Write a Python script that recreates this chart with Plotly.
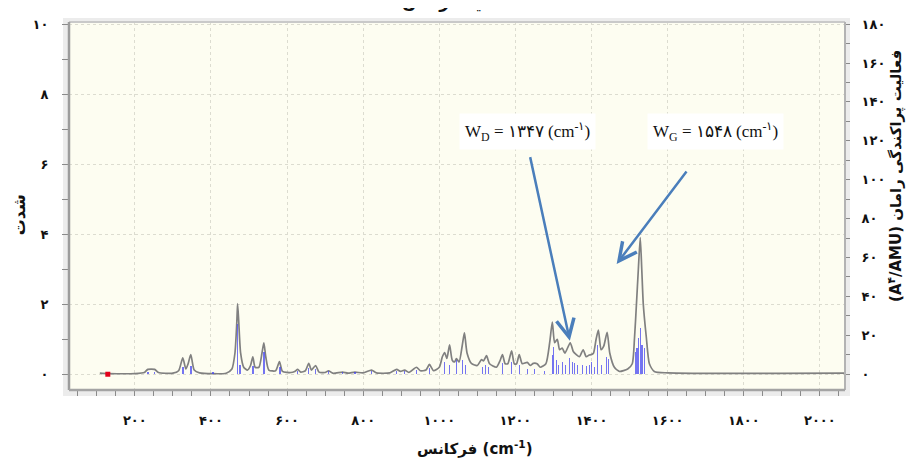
import plotly.graph_objects as go

# ---------------- data ----------------
wavenumber = [108, 130, 200, 225, 234, 252, 262, 300, 315, 326, 334, 340, 347, 356, 370,
              440, 455, 463, 468, 470, 473, 478, 486, 496, 504, 510, 516, 526, 534, 539,
              544, 552, 570, 580, 588, 610, 620, 628, 636, 648, 657, 664, 675, 684, 700,
              709, 720, 746, 760, 778, 800, 822, 835, 870, 888, 898, 909, 920, 940, 950,
              965, 974, 985, 1000, 1008, 1014, 1020, 1027, 1034, 1040, 1045, 1052, 1060,
              1066, 1073, 1085, 1100, 1111, 1116, 1124, 1132, 1150, 1160, 1166, 1173, 1180,
              1190, 1197, 1203, 1210, 1218, 1231, 1239, 1247, 1257, 1265, 1280, 1290, 1297,
              1303, 1310, 1316, 1323, 1330, 1344, 1352, 1360, 1368, 1378, 1386, 1394, 1399,
              1405, 1412, 1418, 1425, 1432, 1441, 1448, 1460, 1473, 1495, 1507, 1513, 1518,
              1523, 1528, 1532, 1536, 1544, 1552, 1565, 1600, 2066]
intensity = [0.03, 0.02, 0.02, 0.05, 0.14, 0.14, 0.05, 0.03, 0.10, 0.47, 0.15, 0.30, 0.56, 0.12, 0.04,
             0.03, 0.15, 0.60, 1.50, 2.02, 1.50, 0.60, 0.20, 0.12, 0.25, 0.50, 0.20, 0.20, 0.60, 0.90,
             0.50, 0.12, 0.10, 0.36, 0.08, 0.05, 0.08, 0.14, 0.06, 0.10, 0.31, 0.12, 0.25, 0.06, 0.05,
             0.10, 0.03, 0.06, 0.03, 0.06, 0.04, 0.12, 0.04, 0.04, 0.14, 0.08, 0.12, 0.05, 0.20, 0.10,
             0.12, 0.28, 0.10, 0.20, 0.50, 0.62, 0.45, 0.84, 0.40, 0.35, 0.45, 0.35, 0.80,
             1.18, 0.60, 0.30, 0.25, 0.42, 0.38, 0.53, 0.30, 0.20, 0.40, 0.56, 0.30, 0.30,
             0.67, 0.30, 0.30, 0.56, 0.30, 0.34, 0.25, 0.31, 0.30, 0.20, 0.30, 0.90, 1.49,
             0.90, 1.00, 0.70, 0.75, 0.60, 0.90, 0.65, 0.56, 0.50, 0.70, 0.50, 0.55, 0.56,
             0.60, 1.00, 1.26, 0.70, 0.80, 1.20, 0.60, 0.20, 0.08, 0.15, 0.30, 1.05, 2.00,
             3.00, 3.90, 3.00, 2.00, 1.05, 0.30, 0.08, 0.04, 0.03]

stick_wavenumber = [234, 252, 326, 347, 405, 470, 476, 510, 539, 581, 628, 657, 675, 709, 746,
                    778, 822, 888, 909, 940, 974, 1014, 1027, 1045, 1061, 1069, 1114, 1121, 1129,
                    1166, 1190, 1211, 1232, 1250, 1276, 1297, 1300, 1308, 1313, 1323, 1331, 1342,
                    1350, 1355, 1363, 1376, 1387, 1394, 1400, 1408, 1415, 1426, 1439, 1444,
                    1515, 1520, 1523, 1528, 1533, 1539]
stick_activity = [1.0, 1.0, 3.5, 4.0, 1.0, 26.0, 5.0, 4.0, 11.6, 3.5, 1.5, 3.0, 2.5, 1.5, 1.0,
                  1.0, 1.5, 1.5, 1.5, 2.0, 3.0, 6.5, 5.0, 7.5, 7.5, 5.0, 3.5, 5.0, 3.5,
                  6.0, 6.5, 5.0, 2.5, 2.5, 1.5, 10.0, 14.0, 7.5, 5.0, 6.5, 5.0, 8.5,
                  6.5, 5.8, 5.0, 5.0, 4.0, 5.0, 6.5, 3.5, 15.0, 5.0, 9.0, 8.0,
                  11.6, 13.6, 18.6, 24.0, 15.0, 13.6]

marker_wavenumber = [129]
marker_intensity = [0]

x_tick_values = [200, 400, 600, 800, 1000, 1200, 1400, 1600, 1800, 2000]
x_tick_labels = ["۲۰۰", "۴۰۰", "۶۰۰", "۸۰۰", "۱۰۰۰", "۱۲۰۰", "۱۴۰۰", "۱۶۰۰", "۱۸۰۰", "۲۰۰۰"]
y_tick_values = [0, 2, 4, 6, 8, 10]
y_tick_labels = ["۰", "۲", "۴", "۶", "۸", "۱۰"]
y2_tick_values = [0, 20, 40, 60, 80, 100, 120, 140, 160, 180]
y2_tick_labels = ["۰", "۲۰", "۴۰", "۶۰", "۸۰", "۱۰۰", "۱۲۰", "۱۴۰", "۱۶۰", "۱۸۰"]

# annotated peaks: (label, arrow head wavenumber, arrow head intensity)
peak_labels = ["W<sub>D</sub> = ۱۳۴۷ (cm<sup>-۱</sup>)", "W<sub>G</sub> = ۱۵۴۸ (cm<sup>-۱</sup>)"]
arrow_head_x = [1343, 1466]
arrow_head_y = [0.96, 3.15]

# ---------------- figure ----------------
OFF = 8                      # default page margin of the html body
W, H = 907, 454
L, R, T, B = 61, 70, 9, 72
X_RANGE = [27, 2066]
Y_RANGE = [-0.45, 10.06]
Y2_RANGE = [Y_RANGE[0] * 18, Y_RANGE[1] * 18]
PW, PH = W - L - R, H - T - B

def px(xs):   # screen x pixel -> paper
    return (xs - OFF - L) / PW

def py(ys):   # screen y pixel -> paper
    return (H - B - (ys - OFF)) / PH

persian_font = "DejaVu Sans"
fig = go.Figure()

fig.add_trace(go.Bar(x=stick_wavenumber, y=stick_activity, yaxis="y2", width=3.8,
                     marker=dict(color="rgba(70,70,240,0.75)", line=dict(width=0)),
                     showlegend=False, hoverinfo="skip"))
fig.add_trace(go.Scatter(x=wavenumber, y=intensity, mode="lines",
                         line=dict(color="#808080", width=1.7, shape="spline", smoothing=0.6),
                         showlegend=False))
fig.add_trace(go.Scatter(x=marker_wavenumber, y=marker_intensity, mode="markers",
                         marker=dict(symbol="square", size=5, color="#e3001b"),
                         showlegend=False))

tick_font = dict(family=persian_font, size=13, color="#111", weight="bold")
grid_col = "#dcdcd0"

fig.update_layout(
    width=W, height=H,
    margin=dict(l=L, r=R, t=T, b=B),
    paper_bgcolor="white",
    plot_bgcolor="rgba(0,0,0,0)",
    bargap=0,
    xaxis=dict(range=X_RANGE, tickmode="array", tickvals=x_tick_values, ticktext=x_tick_labels,
               showgrid=True, gridcolor=grid_col, griddash="dot", gridwidth=1,
               zeroline=False, showline=False, ticks="outside", ticklen=5, tickcolor="#8a8a8a",
               ticklabelstandoff=13, tickfont=tick_font,
               minor=dict(dtick=50, tick0=0, ticks="outside", ticklen=5, tickcolor="#8a8a8a",
                          showgrid=False)),
    yaxis=dict(range=Y_RANGE, tickmode="array", tickvals=y_tick_values, ticktext=y_tick_labels,
               showgrid=True, gridcolor=grid_col, griddash="dot", gridwidth=1,
               zeroline=False, showline=False, ticks="outside", ticklen=6, tickcolor="#8a8a8a",
               ticklabelstandoff=11, tickfont=tick_font,
               minor=dict(dtick=1, tick0=0, ticks="outside", ticklen=6, tickcolor="#8a8a8a",
                          showgrid=False)),
    yaxis2=dict(range=Y2_RANGE, overlaying="y", side="right", tickmode="array",
                tickvals=y2_tick_values, ticktext=y2_tick_labels, showgrid=False,
                zeroline=False, showline=False, ticks="outside", ticklen=4, tickcolor="#8a8a8a",
                ticklabelstandoff=9, tickfont=tick_font,
                minor=dict(dtick=10, tick0=0, ticks="outside", ticklen=4, tickcolor="#8a8a8a")),
)

# frame, shadow and plot background
shapes = [
    dict(type="rect", xref="paper", yref="paper", x0=px(63), x1=px(850), y0=py(396), y1=py(13),
         fillcolor="#ececec", line=dict(width=0), layer="below"),
    dict(type="rect", xref="paper", yref="paper", x0=0, x1=1, y0=0, y1=1,
         fillcolor="#fdfdf1", line=dict(width=0), layer="below"),
    dict(type="line", xref="paper", yref="paper", x0=0, x1=1, y0=1, y1=1,
         line=dict(color="#c9c9c9", width=2), layer="above"),
    dict(type="line", xref="paper", yref="paper", x0=1, x1=1, y0=0, y1=1,
         line=dict(color="#b3b3b3", width=2), layer="above"),
    dict(type="line", xref="paper", yref="paper", x0=0, x1=0, y0=0, y1=1,
         line=dict(color="#9c9c9c", width=2.5), layer="above"),
    dict(type="line", xref="paper", yref="paper", x0=0, x1=1, y0=0, y1=0,
         line=dict(color="#a4a4a4", width=2.5), layer="above"),
]
fig.update_layout(shapes=shapes)

annotations = [
    # clipped title at top
    dict(text="<b>طیف رامان</b>", xref="paper", yref="paper", x=px(450), y=py(-3),
         xanchor="center", yanchor="middle", showarrow=False,
         font=dict(family=persian_font, size=17, color="#111")),
    # axis titles
    dict(text="<b>شدت</b>", xref="paper", yref="paper", x=px(19), y=py(213),
         xanchor="center", yanchor="middle", showarrow=False, textangle=-90,
         font=dict(family=persian_font, size=16, color="#111")),
    dict(text="<b>(A<sup>۴</sup>/AMU) فعالیت پراکندگی رامان</b>", xref="paper", yref="paper",
         x=px(896), y=py(173), xanchor="center", yanchor="middle", showarrow=False,
         textangle=-90, font=dict(family=persian_font, size=15, color="#111")),
    dict(text="<b>فرکانس (cm<sup>-1</sup>)</b>", xref="paper", yref="paper", x=px(475), y=py(449),
         xanchor="center", yanchor="middle", showarrow=False,
         font=dict(family=persian_font, size=15, color="#111")),
    # peak labels
    dict(text=peak_labels[0], xref="paper", yref="paper", x=px(527), y=py(128),
         xanchor="center", yanchor="middle", showarrow=False, bgcolor="white", borderpad=5,
         font=dict(family="Liberation Serif", size=17, color="#111")),
    dict(text=peak_labels[1], xref="paper", yref="paper", x=px(715), y=py(128),
         xanchor="center", yanchor="middle", showarrow=False, bgcolor="white", borderpad=5,
         font=dict(family="Liberation Serif", size=17, color="#111")),
    # arrows
    dict(text="", x=arrow_head_x[0], y=arrow_head_y[0], xref="x", yref="y",
         ax=-40, ay=-185, showarrow=True, arrowhead=5, arrowsize=1.4, arrowwidth=2.5,
         arrowcolor="#4a7ebb", standoff=0, startstandoff=0),
    dict(text="", x=arrow_head_x[1], y=arrow_head_y[1], xref="x", yref="y",
         ax=71, ay=-94, showarrow=True, arrowhead=5, arrowsize=1.4, arrowwidth=2.5,
         arrowcolor="#4a7ebb", standoff=0, startstandoff=0),
]
fig.update_layout(annotations=annotations)

fig.write_html("out.html")
